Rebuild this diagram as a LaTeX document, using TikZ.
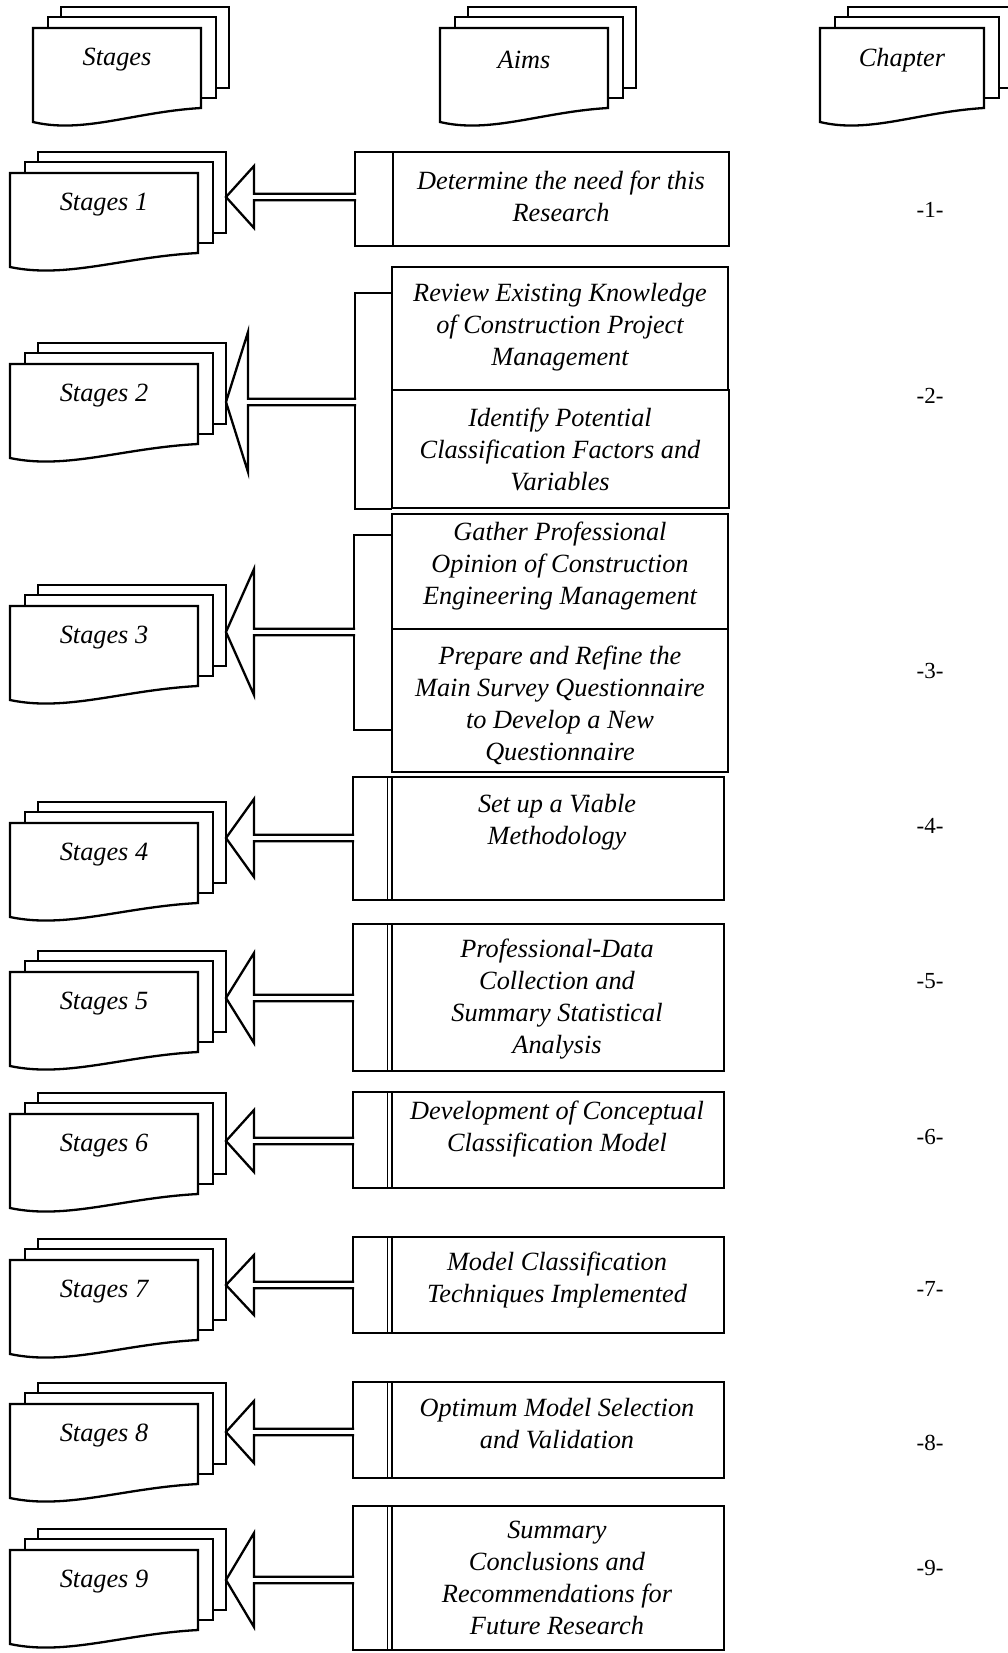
\documentclass[tikz,border=0pt]{standalone}
\usepackage{fontspec}
\setmainfont{Liberation Serif}
\usetikzlibrary{calc}

\tikzset{
  shapeline/.style={draw=black, line width=2.3pt, line join=miter, fill=white},
  thinline/.style={draw=black, line width=1.4pt},
  txt/.style={font=\fontsize{26.3}{32}\selectfont\itshape, align=center, inner sep=0pt},
  chap/.style={font=\fontsize{23}{27}\selectfont, inner sep=0pt},
}

% front sheet of a document stack, with a wavy lower edge
% #1 left, #2 top, #3 width
\newcommand\docsheet[3]{%
  \draw[shapeline] (#1,#2) -- ++(#3,0) -- ++(0,80)
    .. controls ($(#1,#2)+(0.6*#3,84)$) and ($(#1,#2)+(0.3*#3,106)$) ..
    ($(#1,#2)+(0,94)$) -- cycle;}

% three stacked sheets with a caption on the front one
% #1 name, #2 left of front sheet, #3 top of back sheet, #4 width, #5 caption
\newcommand\docstack[5]{%
  \draw[shapeline] ({#2+28},#3) rectangle ++(#4,81);
  \draw[shapeline] ({#2+15},{#3+10}) rectangle ++(#4,81);
  \docsheet{#2}{#3+21}{#4}
  \node[txt] (#1) at ({#2+#4/2},{#3+53}) {#5};}

% hollow arrow with a double-line shaft
% #1 tip, #2 bracket end, #3 half height of the head, #4 head length
\newcommand\hollowarrow[4]{%
  \draw[shapeline] ($(#2)+(1.2,-3.3)$) -- ($(#1)+(#4,-3.3)$) -- ($(#1)+(#4,-#3)$)
    -- (#1) -- ($(#1)+(#4,#3)$) -- ($(#1)+(#4,3.3)$) -- ($(#2)+(1.2,3.3)$);}

% bracket box with a doubled right edge, followed by the aim box
% #1 top, #2 bottom
\newcommand\aimframe[2]{%
  \draw[shapeline] (353,#1) rectangle (392,#2);
  \draw[shapeline] (392,#1) rectangle (724,#2);
  \draw[thinline] (387.5,#1) -- (387.5,#2);}

\begin{document}
\begin{tikzpicture}[x=1pt,y=-1pt]
\useasboundingbox (0,0) rectangle (1008,1653);
\fill[white] (0,0) rectangle (1008,1653);

% column headings
\docstack{hstages}{33}{7}{168}{Stages}
\docstack{haims}{440}{7}{168}{Aims}
\docstack{hchapter}{820}{7}{164}{Chapter}

% stage stacks
\docstack{s1}{10}{152}{188}{Stages 1}
\docstack{s2}{10}{343}{188}{Stages 2}
\docstack{s3}{10}{585}{188}{Stages 3}
\docstack{s4}{10}{802}{188}{Stages 4}
\docstack{s5}{10}{951}{188}{Stages 5}
\docstack{s6}{10}{1093}{188}{Stages 6}
\docstack{s7}{10}{1239}{188}{Stages 7}
\docstack{s8}{10}{1383}{188}{Stages 8}
\docstack{s9}{10}{1529}{188}{Stages 9}

% aims: stage 1
\draw[shapeline] (355,152) rectangle (393,246);
\draw[shapeline] (393,152) rectangle (729,246);
\node[txt] (a1) at (561,196) {Determine the need for this\\Research};

% aims: stage 2
\draw[shapeline, fill=none] (392,293) -- (355,293) -- (355,509) -- (392,509);
\draw[shapeline] (392,267) rectangle (728,390);
\draw[shapeline] (392,390) rectangle (729,508);
\node[txt] (a2a) at (560,327) {Review Existing Knowledge\\of Construction Project\\Management};
\node[txt] (a2b) at (560,449) {Identify Potential\\Classification Factors and\\Variables};

% aims: stage 3
\draw[shapeline, fill=none] (392,535) -- (354,535) -- (354,730) -- (392,730);
\draw[shapeline] (392,514) rectangle (728,629);
\draw[shapeline] (392,629) rectangle (728,772);
\node[txt] (a3a) at (560,566) {Gather Professional\\Opinion of Construction\\Engineering Management};
\node[txt] (a3b) at (560,705) {Prepare and Refine the\\Main Survey Questionnaire\\to Develop a New\\Questionnaire};

% aims: stages 4 to 9
\aimframe{777}{900}
\node[txt] (a4) at (557,822) {Set up a Viable\\Methodology};
\aimframe{924}{1071}
\node[txt] (a5) at (557,999) {Professional-Data\\Collection and\\Summary Statistical\\Analysis};
\aimframe{1092}{1188}
\node[txt] (a6) at (557,1129) {Development of Conceptual\\Classification Model};
\aimframe{1237}{1333}
\node[txt] (a7) at (557,1280) {Model Classification\\Techniques Implemented};
\aimframe{1382}{1478}
\node[txt] (a8) at (557,1424) {Optimum Model Selection\\and Validation};
\aimframe{1506}{1650}
\node[txt] (a9) at (557,1578) {Summary\\Conclusions and\\Recommendations for\\Future Research};

% arrow ends
\coordinate (tip1) at (226,197);  \coordinate (br1) at (355,197);
\coordinate (tip2) at (226,402);  \coordinate (br2) at (355,402);
\coordinate (tip3) at (226,632);  \coordinate (br3) at (354,632);
\coordinate (tip4) at (226,838);  \coordinate (br4) at (353,838);
\coordinate (tip5) at (226,998);  \coordinate (br5) at (353,998);
\coordinate (tip6) at (226,1141); \coordinate (br6) at (353,1141);
\coordinate (tip7) at (226,1285); \coordinate (br7) at (353,1285);
\coordinate (tip8) at (226,1432); \coordinate (br8) at (353,1432);
\coordinate (tip9) at (226,1580); \coordinate (br9) at (353,1580);

\hollowarrow{tip1}{br1}{31}{28}
\hollowarrow{tip2}{br2}{70}{22}
\hollowarrow{tip3}{br3}{63}{28}
\hollowarrow{tip4}{br4}{39}{28}
\hollowarrow{tip5}{br5}{45}{28}
\hollowarrow{tip6}{br6}{31}{28}
\hollowarrow{tip7}{br7}{30}{28}
\hollowarrow{tip8}{br8}{31}{28}
\hollowarrow{tip9}{br9}{47}{28}

% chapter numbers
\node[chap] (c1) at (930,210) {-1-};
\node[chap] (c2) at (930,396) {-2-};
\node[chap] (c3) at (930,671) {-3-};
\node[chap] (c4) at (930,826) {-4-};
\node[chap] (c5) at (930,981) {-5-};
\node[chap] (c6) at (930,1137) {-6-};
\node[chap] (c7) at (930,1289) {-7-};
\node[chap] (c8) at (930,1443) {-8-};
\node[chap] (c9) at (930,1568) {-9-};
\end{tikzpicture}
\end{document}
